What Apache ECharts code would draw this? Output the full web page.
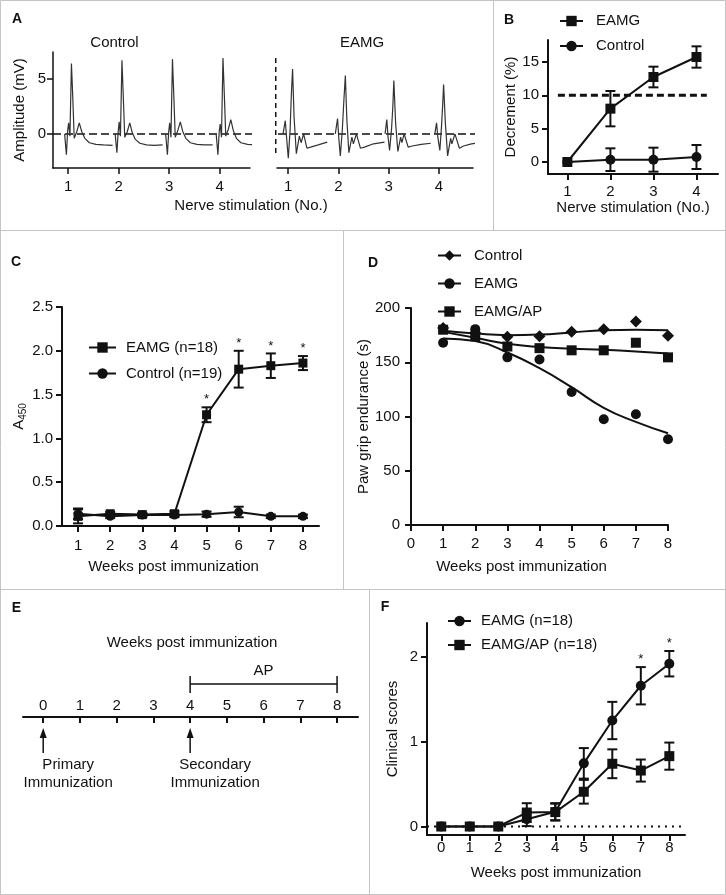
<!DOCTYPE html>
<html lang="en">
<head>
<meta charset="UTF-8">
<title>EAMG figure</title>
<script src="https://cdn.jsdelivr.net/npm/echarts@6.0.0/dist/echarts.min.js"></script>
<style>
  html, body { margin: 0; padding: 0; background: #fff; }
  #chart { width: 726px; height: 895px; }
</style>
</head>
<body>
<div id="chart"></div>
<script>
var INK = '#111';
var FONT = '"Liberation Sans", Arial, Helvetica, sans-serif';

// ---- A: CMAP traces, [stimulus no., mV]
var ctrlTrace1 = [[0.93,0],[0.965,-1.9],[0.99,0.3],[1.01,1.0],[1.035,-0.2],[1.065,6.4],[1.09,3.5],[1.12,-0.4],[1.17,0.2],[1.22,1.0],[1.27,0.2],[1.33,-0.4],[1.42,-0.8],[1.55,-0.95],[1.7,-1.0],[1.88,-1.05]];
var ctrlTrace2 = [[1.93,0],[1.965,-1.7],[1.99,0.2],[2.01,1.1],[2.035,-0.2],[2.065,6.7],[2.09,3.6],[2.12,-0.3],[2.17,0.2],[2.22,1.0],[2.27,0.1],[2.33,-0.5],[2.42,-0.85],[2.55,-1.0],[2.7,-1.05],[2.87,-1.0]];
var ctrlTrace3 = [[2.93,0],[2.965,-1.9],[2.99,0.2],[3.01,1.0],[3.035,-0.3],[3.065,6.8],[3.09,3.7],[3.12,-0.3],[3.17,0.3],[3.22,1.1],[3.27,0.2],[3.33,-0.4],[3.42,-0.8],[3.55,-0.95],[3.7,-1.0],[3.86,-1.0]];
var ctrlTrace4 = [[3.93,0],[3.965,-1.9],[3.99,0.2],[4.01,0.9],[4.035,-0.3],[4.065,6.9],[4.09,3.8],[4.12,-0.2],[4.17,0.4],[4.22,1.3],[4.27,0.3],[4.33,-0.4],[4.42,-0.8],[4.55,-0.95],[4.7,-1.0],[4.88,-1.05]];
var eamgTrace1 = [[0.9,0],[0.945,1.2],[0.97,-0.3],[1.005,-2.2],[1.04,0.3],[1.065,3.5],[1.09,5.9],[1.12,1.5],[1.165,-1.8],[1.225,-0.2],[1.26,-0.8],[1.31,0.0],[1.375,-1.3],[1.45,-1.2],[1.6,-1.0],[1.78,-0.75]];
var eamgTrace2 = [[1.94,0],[1.985,1.4],[2.01,-0.4],[2.04,-2.0],[2.08,0.4],[2.11,3.0],[2.14,5.3],[2.17,1.3],[2.21,-1.7],[2.27,-0.3],[2.3,-0.9],[2.36,0.0],[2.44,-1.3],[2.52,-1.2],[2.7,-0.9],[2.92,-0.75]];
var eamgTrace3 = [[2.93,0],[2.965,1.3],[2.99,-0.3],[3.02,-1.5],[3.06,0.5],[3.085,2.5],[3.105,4.85],[3.14,1.0],[3.185,-1.6],[3.24,-0.3],[3.265,-0.8],[3.31,0.0],[3.39,-1.2],[3.47,-1.1],[3.65,-0.95],[3.84,-0.85]];
var eamgTrace4 = [[3.92,0],[3.955,1.0],[3.98,-0.3],[4.02,-1.5],[4.055,0.8],[4.075,2.5],[4.095,4.5],[4.13,1.0],[4.175,-2.0],[4.235,-0.4],[4.26,-0.9],[4.32,0.0],[4.41,-1.3],[4.49,-1.1],[4.65,-0.9],[4.82,-0.8]];
var stimTicks = [1, 2, 3, 4];
var mvTicks = [0, 5];
var ctrlZeroLine = [[0.7, 0], [4.93, 0]];
var eamgZeroLine = [[0.8, 0], [4.82, 0]];
var splitMark = [[0.745, 6.9], [0.745, -1.9]];

// ---- B: decrement (%)
var bStim = [1, 2, 3, 4];
var bEamg = [0, 8.0, 12.75, 15.75];
var bEamgSem = [0, 2.65, 1.55, 1.6];
var bCtrl = [0, 0.35, 0.35, 0.75];
var bCtrlSem = [0, 1.7, 1.8, 1.8];
var bThreshold = 10;
var bTicks = [0, 5, 10, 15];

// ---- C: anti-AChR antibody, A450
var cWeeks = [1, 2, 3, 4, 5, 6, 7, 8];
var cEamg = [0.11, 0.14, 0.13, 0.14, 1.27, 1.79, 1.83, 1.86];
var cEamgSem = [0.08, 0.02, 0.02, 0.03, 0.085, 0.21, 0.14, 0.08];
var cCtrl = [0.14, 0.11, 0.125, 0.125, 0.135, 0.16, 0.11, 0.11];
var cCtrlSem = [0.06, 0.02, 0.02, 0.02, 0.03, 0.06, 0.02, 0.02];
var cStars = [5, 6, 7, 8];
var cTicks = [0, 0.5, 1, 1.5, 2, 2.5];

// ---- D: paw grip endurance (s)
var dWeeks = [1, 2, 3, 4, 5, 6, 7, 8];
var dCtrl = [181.5, 177, 173.5, 174, 178, 180.5, 187.5, 174.5];
var dEamg = [168, 180.5, 154.5, 152.5, 122.5, 97.5, 102, 79];
var dAp = [180, 174, 164.5, 163, 161, 161, 168, 154.5];
var dCtrlFit = [179, 176.5, 175, 175.5, 177.5, 179.5, 180, 179.5];
var dEamgFit = [172, 169.5, 159, 144.5, 127, 108, 95, 84.5];
var dApFit = [178, 172.5, 167, 164, 162.5, 161.5, 160, 158];
var dXTicks = [0, 1, 2, 3, 4, 5, 6, 7, 8];
var dYTicks = [0, 50, 100, 150, 200];

// ---- E: schedule
var eWeeks = [0, 1, 2, 3, 4, 5, 6, 7, 8];
var eEvents = [{ week: 0, label: 'Primary\nImmunization' }, { week: 4, label: 'Secondary\nImmunization' }];
var eAP = [4, 8];

// ---- F: clinical scores
var fWeeks = [0, 1, 2, 3, 4, 5, 6, 7, 8];
var fEamg = [0, 0, 0, 0.085, 0.175, 0.745, 1.25, 1.66, 1.92];
var fEamgSem = [0, 0, 0, 0.08, 0.1, 0.18, 0.22, 0.22, 0.15];
var fAp = [0, 0, 0, 0.165, 0.17, 0.41, 0.74, 0.66, 0.83];
var fApSem = [0, 0, 0, 0.11, 0.1, 0.14, 0.17, 0.13, 0.16];
var fStars = [7, 8];
var fYTicks = [0, 1, 2];

function pairs(xs, ys) { return xs.map(function (x, i) { return [x, ys[i]]; }); }
function strip(n) { return n.slice(2); }

function valueAxis(grid, min, max, ticks, o) {
    o = o || {};
    return {
        type: 'value', gridIndex: grid, min: min, max: max, show: o.show !== false,
        name: o.name || '', nameLocation: 'middle', nameGap: o.nameGap || 30,
        nameTextStyle: Object.assign({ color: INK, fontSize: 15, fontFamily: FONT }, o.nameStyle || {}),
        axisLine: { show: true, onZero: false, lineStyle: { color: INK, width: o.lw || 2 } },
        axisTick: { show: true, length: 6, customValues: ticks, lineStyle: { color: INK, width: o.lw || 2 } },
        axisLabel: { customValues: ticks, color: INK, fontSize: 15, fontFamily: FONT,
            margin: o.margin || 10, inside: !!o.inside, formatter: o.fmt },
        splitLine: { show: false }
    };
}

function errorBars(axis, xs, means, sems, stars) {
    return {
        type: 'custom', xAxisIndex: axis, yAxisIndex: axis, silent: true, z: 2, clip: false,
        data: xs.map(function (x, i) { return [x, means[i] - sems[i], means[i] + sems[i]]; }),
        renderItem: function (params, api) {
            var x = api.value(0);
            var lo = api.coord([x, api.value(1)]), hi = api.coord([x, api.value(2)]);
            var st = { stroke: INK, lineWidth: 2 };
            var kids = [];
            if (lo[1] - hi[1] > 1) {
                kids.push({ type: 'line', shape: { x1: lo[0], y1: lo[1], x2: hi[0], y2: hi[1] }, style: st });
                kids.push({ type: 'line', shape: { x1: lo[0] - 5, y1: lo[1], x2: lo[0] + 5, y2: lo[1] }, style: st });
                kids.push({ type: 'line', shape: { x1: hi[0] - 5, y1: hi[1], x2: hi[0] + 5, y2: hi[1] }, style: st });
            }
            if (stars && stars.indexOf(x) >= 0) {
                kids.push({ type: 'text', x: hi[0], y: hi[1] - 1, style: { text: '*', font: '13px ' + FONT, fill: INK,
                    textAlign: 'center', align: 'center', textVerticalAlign: 'bottom', verticalAlign: 'bottom' } });
            }
            return { type: 'group', children: kids };
        }
    };
}

function meanLine(name, axis, xs, ys, symbol, size) {
    return {
        name: name, type: 'line', xAxisIndex: axis, yAxisIndex: axis, data: pairs(xs, ys),
        symbol: symbol, symbolSize: size || 10, showAllSymbol: true, z: 3, clip: false,
        lineStyle: { color: INK, width: 2 }, itemStyle: { color: INK }
    };
}

function guide(axis, pts, width, dash) {
    return { type: 'line', xAxisIndex: axis, yAxisIndex: axis, data: pts, symbol: 'none', clip: false,
        silent: true, z: 1, lineStyle: { color: INK, width: width, type: dash } };
}

function label(x, y, s, size, bold) {
    return { type: 'text', x: x, y: y, silent: true, style: { text: s, font: (bold ? 'bold ' : '') + size + 'px ' + FONT,
        fill: INK, textAlign: 'center', align: 'center', textVerticalAlign: 'middle', verticalAlign: 'middle' } };
}
function rule(x1, y1, x2, y2) {
    return { type: 'line', silent: true, shape: { x1: x1, y1: y1, x2: x2, y2: y2 }, style: { stroke: '#c4c4c4', lineWidth: 1 } };
}

var series = [];

// A traces
[ctrlTrace1, ctrlTrace2, ctrlTrace3, ctrlTrace4].forEach(function (tr) {
    series.push({ type: 'line', xAxisIndex: 0, yAxisIndex: 0, data: tr, symbol: 'none', clip: false, silent: true,
        z: 2, lineStyle: { color: '#333', width: 1.2 } });
});
[eamgTrace1, eamgTrace2, eamgTrace3, eamgTrace4].forEach(function (tr) {
    series.push({ type: 'line', xAxisIndex: 1, yAxisIndex: 1, data: tr, symbol: 'none', clip: false, silent: true,
        z: 2, lineStyle: { color: '#333', width: 1.2 } });
});
series.push(guide(0, ctrlZeroLine, 1.5, [8, 4]), guide(1, eamgZeroLine, 1.5, [8, 4]), guide(1, splitMark, 2.5, [5, 4]));

// B
series.push(meanLine('B:EAMG', 2, bStim, bEamg, 'rect', 10), meanLine('B:Control', 2, bStim, bCtrl, 'circle', 10),
    errorBars(2, bStim, bEamg, bEamgSem), errorBars(2, bStim, bCtrl, bCtrlSem),
    guide(2, [[0.78, bThreshold], [4.24, bThreshold]], 3, [7, 4]));

// C
series.push(meanLine('C:EAMG (n=18)', 3, cWeeks, cEamg, 'rect', 9),
    meanLine('C:Control (n=19)', 3, cWeeks, cCtrl, 'circle', 9),
    errorBars(3, cWeeks, cEamg, cEamgSem, cStars), errorBars(3, cWeeks, cCtrl, cCtrlSem));

// D: points plus fitted curves
[['D:Control', dCtrl, 'diamond', 12], ['D:EAMG', dEamg, 'circle', 10], ['D:EAMG/AP', dAp, 'rect', 10]].forEach(function (d) {
    series.push({ name: d[0], type: 'line', xAxisIndex: 4, yAxisIndex: 4, data: pairs(dWeeks, d[1]),
        symbol: d[2], symbolSize: d[3], showAllSymbol: true, z: 3,
        lineStyle: { width: 0, opacity: 0 }, itemStyle: { color: INK } });
});
[dCtrlFit, dEamgFit, dApFit].forEach(function (f) {
    series.push({ type: 'line', xAxisIndex: 4, yAxisIndex: 4, data: pairs(dWeeks, f), smooth: 0.5,
        symbol: 'none', silent: true, lineStyle: { color: INK, width: 2 } });
});

// E: timeline annotations
series.push({
    type: 'custom', xAxisIndex: 5, yAxisIndex: 5, silent: true, clip: false,
    data: eEvents.map(function (e) { return [e.week, 0]; }),
    renderItem: function (params, api) {
        var p = api.coord([api.value(0), 0]);
        var st = { stroke: INK, lineWidth: 1.5 };
        return { type: 'group', children: [
            { type: 'line', shape: { x1: p[0], y1: p[1] + 36, x2: p[0], y2: p[1] + 18 }, style: st },
            { type: 'polygon', shape: { points: [[p[0], p[1] + 11], [p[0] - 3.5, p[1] + 21], [p[0] + 3.5, p[1] + 21]] }, style: { fill: INK } },
            { type: 'text', x: p[0] + 25, y: p[1] + 39, style: { text: eEvents[params.dataIndex].label, font: '15px ' + FONT,
                lineHeight: 18, fill: INK, textAlign: 'center', align: 'center', textVerticalAlign: 'top', verticalAlign: 'top' } }
        ] };
    }
}, {
    type: 'custom', xAxisIndex: 5, yAxisIndex: 5, silent: true, clip: false,
    data: [[eAP[0], eAP[1]]],
    renderItem: function (params, api) {
        var a = api.coord([api.value(0), 0]), b = api.coord([api.value(1), 0]);
        var y = a[1] - 33;
        var st = { stroke: INK, lineWidth: 1.5 };
        return { type: 'group', children: [
            { type: 'line', shape: { x1: a[0], y1: y, x2: b[0], y2: y }, style: st },
            { type: 'line', shape: { x1: a[0], y1: y - 8, x2: a[0], y2: y + 9 }, style: st },
            { type: 'line', shape: { x1: b[0], y1: y - 8, x2: b[0], y2: y + 9 }, style: st },
            { type: 'text', x: (a[0] + b[0]) / 2, y: y - 13, style: { text: 'AP', font: '15px ' + FONT, fill: INK,
                textAlign: 'center', align: 'center', textVerticalAlign: 'middle', verticalAlign: 'middle' } }
        ] };
    }
});

// F
series.push(meanLine('F:EAMG (n=18)', 6, fWeeks, fEamg, 'circle', 10), meanLine('F:EAMG/AP (n=18)', 6, fWeeks, fAp, 'rect', 10),
    errorBars(6, fWeeks, fEamg, fEamgSem, fStars), errorBars(6, fWeeks, fAp, fApSem),
    guide(6, [[-0.5, 0], [8.5, 0]], 2, [2, 5]));

function legendAt(left, top, gap, width, pad, names, extra) {
    return Object.assign({
        left: left, top: top, padding: 0, orient: 'vertical', itemWidth: width, itemHeight: 13, itemGap: gap,
        selectedMode: false, data: names, formatter: strip,
        textStyle: { color: INK, fontSize: 15, fontFamily: FONT, padding: [0, 0, 0, pad] }
    }, extra || {});
}

var grids = [
    { left: 53, top: 52, width: 197, height: 116 },
    { left: 277, top: 52, width: 196, height: 116 },
    { left: 548, top: 40, width: 170, height: 134 },
    { left: 62, top: 307, width: 257, height: 219 },
    { left: 411, top: 308, width: 257, height: 217 },
    { left: 23, top: 640, width: 335, height: 77 },
    { left: 427, top: 623, width: 258, height: 212 }
].map(function (g) { g.outerBoundsMode = 'none'; return g; });

var option = {
    animation: false,
    backgroundColor: '#fff',
    textStyle: { fontFamily: FONT },
    grid: grids,
    xAxis: [
        valueAxis(0, 0.7, 4.6, stimTicks, { lw: 1.5, margin: 11 }),
        valueAxis(1, 0.78, 4.68, stimTicks, { lw: 1.5, margin: 11 }),
        valueAxis(2, 0.55, 4.5, bStim, { margin: 10, name: 'Nerve stimulation (No.)', nameGap: 25 }),
        valueAxis(3, 0.5, 8.5, cWeeks, { margin: 12, name: 'Weeks post immunization', nameGap: 33,
            nameStyle: { padding: [0, 34, 0, 0] } }),
        valueAxis(4, 0, 8, dXTicks, { margin: 11, name: 'Weeks post immunization', nameGap: 34,
            nameStyle: { padding: [0, 36, 0, 0] } }),
        valueAxis(5, -0.55, 8.57, eWeeks, { margin: 4, inside: true }),
        valueAxis(6, -0.5, 8.55, fWeeks, { margin: 5, name: 'Weeks post immunization', nameGap: 30 })
    ],
    yAxis: [
        valueAxis(0, -3.1, 7.45, mvTicks, { lw: 1.5, margin: 7, name: 'Amplitude (mV)', nameGap: 26 }),
        valueAxis(1, -3.1, 7.45, mvTicks, { show: false }),
        valueAxis(2, -1.8, 18.3, bTicks, { margin: 9, name: 'Decrement (%)', nameGap: 25 }),
        valueAxis(3, 0, 2.5, cTicks, { margin: 9, name: '{a|A}{s|450}', nameGap: 32,
            fmt: function (v) { return v.toFixed(1); },
            nameStyle: { rich: { a: { fontSize: 15, lineHeight: 18, verticalAlign: 'middle', fontFamily: FONT, color: INK },
                s: { fontSize: 10, lineHeight: 10, verticalAlign: 'bottom', fontFamily: FONT, color: INK } } } }),
        valueAxis(4, 0, 200, dYTicks, { margin: 11, name: 'Paw grip endurance (s)', nameGap: 36 }),
        valueAxis(5, 0, 1, [], { show: false }),
        valueAxis(6, -0.1, 2.4, fYTicks, { margin: 9, name: 'Clinical scores', nameGap: 27 })
    ],
    legend: [
        legendAt(559, 13.5, 10, 23, 8, ['B:EAMG', 'B:Control']),
        legendAt(88, 340, 11, 27, 5, ['C:EAMG (n=18)', 'C:Control (n=19)']),
        legendAt(437, 248, 13, 23, 8, ['D:Control', 'D:EAMG', 'D:EAMG/AP'],
            { lineStyle: { width: 2, color: INK, opacity: 1 } }),
        legendAt(447, 613.5, 9, 23, 5, ['F:EAMG (n=18)', 'F:EAMG/AP (n=18)'])
    ],
    graphic: [
        { type: 'rect', silent: true, shape: { x: 0.5, y: 0.5, width: 725, height: 894 }, style: { fill: 'none', stroke: '#c4c4c4', lineWidth: 1 } },
        rule(493.5, 0, 493.5, 230), rule(0, 230.5, 726, 230.5),
        rule(343.5, 230, 343.5, 589), rule(0, 589.5, 726, 589.5),
        rule(369.5, 589, 369.5, 895),
        label(17, 19.5, 'A', 14, true), label(509, 20, 'B', 14, true), label(16, 262, 'C', 14, true),
        label(373, 263.5, 'D', 14, true), label(16.5, 608, 'E', 14, true), label(385, 607, 'F', 14, true),
        label(114.5, 43, 'Control', 15), label(362, 43, 'EAMG', 15),
        label(251, 206, 'Nerve stimulation (No.)', 15),
        label(192, 643, 'Weeks post immunization', 15)
    ],
    series: series
};

var chart = echarts.init(document.getElementById('chart'));
chart.setOption(option);
</script>
</body>
</html>
